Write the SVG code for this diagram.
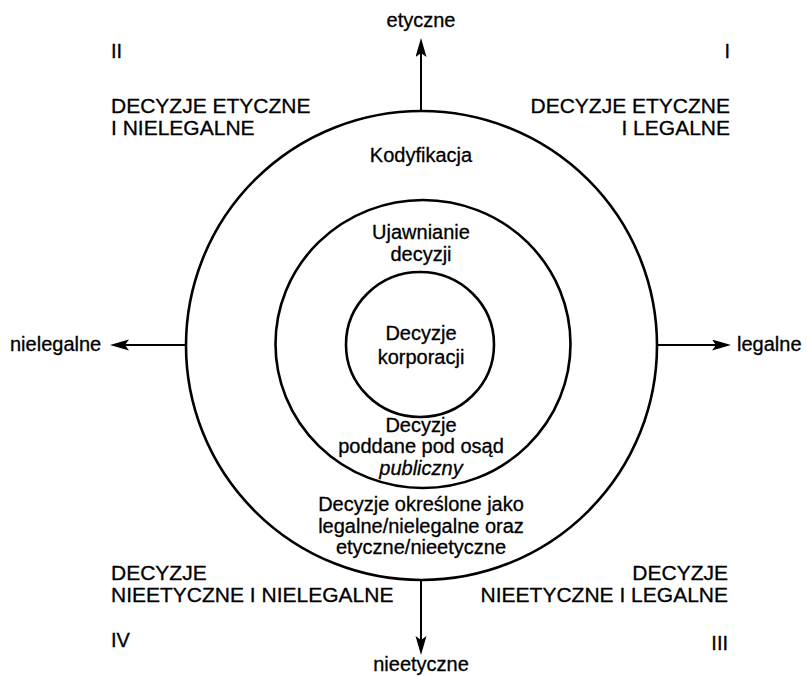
<svg xmlns="http://www.w3.org/2000/svg" width="807" height="677" viewBox="0 0 807 677">
  <style>
    text { font-family: "Liberation Sans", Arial, sans-serif; fill: #000; stroke: #000; stroke-width: 0.3; }
    .q { font-size: 21px; }
    .r { font-size: 20px; }
    .c { font-size: 20px; text-anchor: middle; }
    .ax { font-size: 20px; }
    .ring { fill: none; stroke: #000; stroke-width: 2.6; }
    .axis { fill: none; stroke: #000; stroke-width: 2; marker-end: url(#arr); }
  </style>
  <defs>
    <marker id="arr" markerUnits="userSpaceOnUse" markerWidth="20" markerHeight="12" refX="6" refY="5.5" orient="auto">
      <path d="M0,0 L19,5.5 L0,11 L4,5.5 Z" fill="#000"/>
    </marker>
  </defs>
  <rect width="807" height="677" fill="#fff"/>

  <g id="connectors">
    <line class="axis" x1="421" y1="111" x2="421" y2="51"/>
    <line class="axis" x1="421" y1="580" x2="421" y2="642"/>
    <line class="axis" x1="186" y1="345" x2="123" y2="345"/>
    <line class="axis" x1="656" y1="345" x2="718" y2="345"/>
  </g>

  <g id="ring-outer">
    <ellipse class="ring" cx="421.5" cy="345.5" rx="235.5" ry="234.5"/>
    <text class="c" x="421" y="162">Kodyfikacja</text>
    <text class="c" x="421" y="511">Decyzje określone jako</text>
    <text class="c" x="421" y="533">legalne/nielegalne oraz</text>
    <text class="c" x="421" y="554">etyczne/nieetyczne</text>
  </g>

  <g id="ring-middle">
    <ellipse class="ring" cx="423" cy="344" rx="147.5" ry="144"/>
    <text class="c" x="421" y="239">Ujawnianie</text>
    <text class="c" x="421" y="261">decyzji</text>
    <text class="c" x="421" y="432">Decyzje</text>
    <text class="c" x="421" y="453">poddane pod osąd</text>
    <text class="c" x="421" y="475" font-style="italic">publiczny</text>
  </g>

  <g id="ring-inner">
    <ellipse class="ring" cx="420" cy="344.5" rx="74" ry="72.5"/>
    <text class="c" x="421" y="340">Decyzje</text>
    <text class="c" x="421" y="364">korporacji</text>
  </g>

  <g id="axis-labels">
    <text class="ax" x="421" y="27" text-anchor="middle">etyczne</text>
    <text class="ax" x="421" y="671" text-anchor="middle">nieetyczne</text>
    <text class="ax" x="10" y="351">nielegalne</text>
    <text class="ax" x="737" y="351">legalne</text>
  </g>

  <g id="quadrant-II">
    <text class="r" x="111" y="58">II</text>
    <text class="q" x="111" y="113">DECYZJE ETYCZNE</text>
    <text class="q" x="111" y="135">I NIELEGALNE</text>
  </g>

  <g id="quadrant-I">
    <text class="r" x="730" y="58" text-anchor="end">I</text>
    <text class="q" x="730" y="113" text-anchor="end">DECYZJE ETYCZNE</text>
    <text class="q" x="730" y="135" text-anchor="end">I LEGALNE</text>
  </g>

  <g id="quadrant-IV">
    <text class="q" x="111" y="580">DECYZJE</text>
    <text class="q" x="111" y="602">NIEETYCZNE I NIELEGALNE</text>
    <text class="r" x="111" y="647">IV</text>
  </g>

  <g id="quadrant-III">
    <text class="q" x="728" y="580" text-anchor="end">DECYZJE</text>
    <text class="q" x="728" y="602" text-anchor="end">NIEETYCZNE I LEGALNE</text>
    <text class="r" x="728" y="650" text-anchor="end">III</text>
  </g>
</svg>
